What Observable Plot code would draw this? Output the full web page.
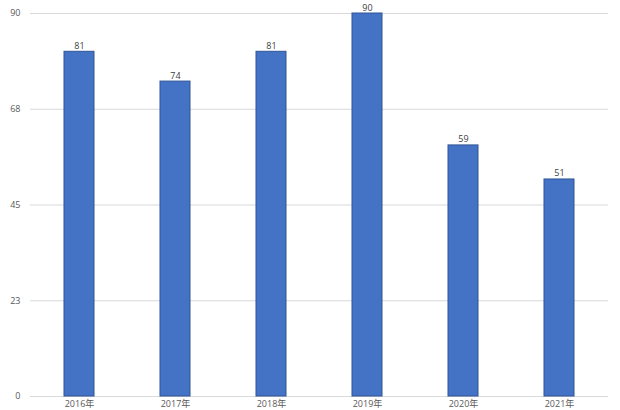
<!DOCTYPE html>
<html>
<head>
<meta charset="utf-8">
<script src="https://cdn.jsdelivr.net/npm/d3@7"></script>
<script src="https://cdn.jsdelivr.net/npm/@observablehq/plot@0.6"></script>
<style>
html, body { margin: 0; padding: 0; background: #fff; }
#chart svg { display: block; }
</style>
</head>
<body>
<div id="chart"></div>
<script>
const years = ["2016年", "2017年", "2018年", "2019年", "2020年", "2021年"];
const values = [81, 74, 81, 90, 59, 51];
const yTicks = [0, 22.5, 45, 67.5, 90];

const data = years.map((y, i) => ({year: y, value: values[i]}));

const chart = Plot.plot({
  width: 620,
  height: 410,
  marginLeft: 30,
  marginRight: 12,
  marginTop: 13,
  marginBottom: 14,
  style: {fontFamily: "'Open Sans', 'Noto Sans CJK SC', sans-serif", fontSize: "9px", color: "#595959", background: "#fff"},
  x: {domain: years, paddingInner: 0.69, paddingOuter: 0.345, label: null, tickSize: 0, tickPadding: 4},
  y: {domain: [0, 90], label: null, ticks: yTicks, tickSize: 0, tickPadding: 10, tickFormat: d => Math.round(d)},
  marks: [
    Plot.gridY(yTicks, {stroke: "#d9d9d9", strokeOpacity: 1}),
    Plot.barY(data, {x: "year", y: "value", fill: "#4472c4", stroke: "#2f5597", strokeWidth: 1}),
    Plot.text(data, {x: "year", y: "value", text: d => String(d.value), lineAnchor: "bottom", dy: -3, fill: "#404040", fontSize: 9})
  ]
});
document.getElementById("chart").appendChild(chart);
</script>
</body>
</html>
